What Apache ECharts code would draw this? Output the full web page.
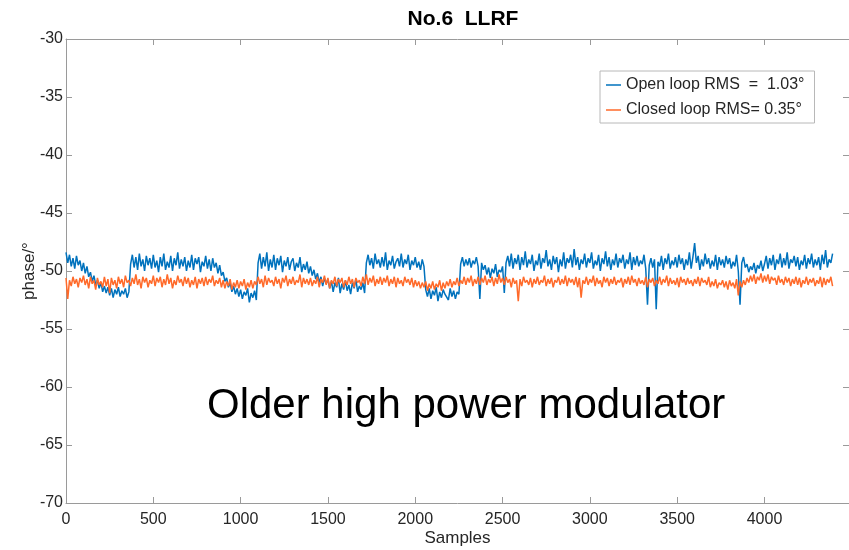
<!DOCTYPE html>
<html>
<head>
<meta charset="utf-8">
<script src="https://cdn.jsdelivr.net/npm/echarts@6/dist/echarts.min.js"></script>
<style>
html,body{margin:0;padding:0;background:#fff;}
#chart{width:849px;height:550px;}
</style>
</head>
<body>
<div id="chart"></div>
<script>
// ---- data (one value every 10 samples) ----
const sampleStep = 10;
const seriesNames = ['Open loop RMS  =  1.03\u00b0', 'Closed loop RMS= 0.35\u00b0'];
const yTicks = [-70, -65, -60, -55, -50, -45, -40, -35, -30];
const xTicks = [0, 500, 1000, 1500, 2000, 2500, 3000, 3500, 4000];
const titleText = 'No.6  LLRF';
const noteText = 'Older high power modulator';

const openLoop = [
-48.4,-49.3,-48.6,-49.6,-48.9,-49.8,-48.7,-49.5,-49.1,-50.0,
-49.3,-50.2,-49.6,-50.5,-50.1,-50.9,-50.4,-51.2,-50.8,-51.5,
-51.0,-51.8,-51.3,-51.9,-51.4,-52.1,-51.5,-52.3,-51.6,-52.0,
-51.4,-52.2,-51.7,-52.0,-51.5,-52.3,-51.8,-49.4,-48.6,-49.7,
-48.8,-49.9,-48.5,-49.6,-49.0,-50.0,-48.7,-49.5,-48.9,-49.8,
-48.6,-49.7,-49.1,-50.1,-48.8,-49.6,-48.5,-49.9,-49.2,-49.7,
-48.7,-50.0,-48.9,-49.5,-48.4,-49.8,-49.0,-49.6,-48.8,-50.0,
-49.1,-49.7,-48.6,-49.9,-48.9,-49.4,-48.8,-50.1,-49.2,-49.6,
-48.7,-49.8,-49.0,-50.0,-48.9,-49.7,-49.3,-50.2,-49.5,-50.4,
-50.1,-50.9,-50.6,-51.4,-51.0,-51.8,-51.3,-52.0,-51.5,-52.2,
-51.6,-52.4,-51.8,-52.1,-51.5,-52.7,-51.9,-52.3,-51.7,-52.5,
-49.3,-48.5,-49.8,-48.8,-49.6,-48.4,-50.0,-49.0,-49.7,-48.6,
-49.9,-48.9,-49.5,-48.7,-50.1,-49.1,-49.6,-48.8,-49.9,-49.2,
-48.9,-50.0,-49.3,-49.7,-48.8,-50.1,-49.4,-49.9,-49.2,-50.2,
-49.6,-50.4,-49.9,-50.7,-50.2,-51.0,-50.5,-51.3,-50.6,-51.1,
-50.7,-51.5,-50.9,-51.8,-51.0,-51.4,-50.6,-51.9,-51.1,-51.6,
-50.8,-51.7,-51.2,-52.0,-51.0,-51.5,-50.7,-51.8,-51.3,-51.6,
-51.0,-51.9,-49.3,-48.6,-49.5,-48.9,-49.8,-48.5,-49.4,-49.0,
-49.7,-48.8,-49.6,-48.4,-49.9,-49.1,-49.5,-48.7,-49.8,-49.2,
-48.9,-49.6,-48.5,-49.7,-49.0,-49.4,-48.6,-49.9,-49.1,-49.5,
-48.8,-49.7,-49.2,-49.9,-49.0,-49.6,-51.6,-52.2,-51.5,-52.4,
-51.7,-52.1,-51.4,-52.6,-51.8,-52.3,-51.6,-52.0,-51.9,-52.5,
-51.5,-52.2,-51.7,-52.4,-51.8,-52.0,-49.4,-48.8,-49.6,-49.0,
-49.5,-48.9,-49.7,-49.1,-49.4,-48.8,-49.6,-52.4,-49.3,-49.9,
-49.5,-50.3,-49.7,-50.6,-49.8,-50.2,-49.4,-50.5,-49.9,-50.1,
-49.6,-51.9,-49.3,-48.7,-49.6,-48.5,-49.8,-48.9,-49.4,-48.6,
-49.9,-48.8,-49.5,-48.3,-49.7,-49.0,-49.4,-48.6,-50.0,-49.1,
-49.5,-48.5,-49.8,-48.9,-49.3,-48.2,-49.6,-49.0,-49.9,-48.7,
-49.4,-48.8,-50.1,-49.0,-49.6,-48.4,-49.8,-48.9,-49.3,-48.6,
-49.7,-48.1,-49.5,-48.8,-49.9,-49.0,-49.4,-48.5,-49.7,-48.9,
-49.3,-48.4,-49.8,-49.1,-49.5,-48.6,-50.0,-48.9,-49.4,-48.3,
-49.6,-48.8,-49.9,-49.0,-49.5,-48.5,-49.7,-48.9,-49.3,-48.6,
-49.8,-49.0,-49.4,-48.4,-49.9,-48.8,-49.5,-48.7,-49.6,-49.1,
-49.4,-48.6,-49.8,-52.9,-49.5,-48.9,-49.7,-49.0,-53.3,-49.2,
-49.6,-48.7,-49.9,-48.9,-49.4,-48.5,-49.8,-49.1,-49.5,-48.8,
-49.7,-48.6,-49.4,-48.9,-49.9,-49.0,-49.5,-48.4,-49.8,-48.8,
-47.6,-49.3,-48.7,-49.9,-49.0,-49.6,-48.5,-49.4,-48.9,-49.8,
-49.1,-49.6,-48.6,-49.9,-48.8,-49.5,-49.0,-49.7,-48.7,-49.4,
-48.9,-49.8,-49.2,-49.6,-48.6,-50.0,-52.9,-49.3,-48.8,-49.7,
-49.4,-50.1,-49.6,-49.9,-49.3,-50.2,-49.5,-49.8,-49.1,-50.0,
-49.4,-48.7,-49.8,-48.9,-49.5,-48.6,-49.9,-49.0,-49.4,-48.5,
-49.7,-48.9,-49.5,-48.4,-49.8,-49.0,-49.3,-48.7,-49.6,-48.8,
-49.9,-49.1,-49.5,-48.6,-49.8,-48.9,-49.4,-48.5,-49.7,-49.0,
-49.5,-48.8,-49.9,-48.6,-49.4,-48.2,-49.7,-49.0,-49.3,-48.5
];

const closedLoop = [
-50.6,-52.4,-50.8,-51.3,-50.5,-51.1,-50.7,-51.4,-50.6,-51.0,
-50.4,-51.2,-50.7,-51.5,-50.5,-51.1,-50.8,-51.6,-50.6,-51.2,
-50.9,-51.4,-50.5,-51.3,-50.7,-51.9,-50.6,-51.2,-50.8,-51.5,
-50.5,-51.1,-50.7,-51.4,-50.4,-51.0,-50.8,-51.3,-50.6,-51.1,
-50.3,-51.2,-50.7,-51.5,-50.5,-51.0,-50.6,-51.4,-50.8,-51.1,
-50.4,-51.3,-50.6,-51.0,-50.5,-51.4,-50.7,-51.2,-50.3,-51.1,
-50.6,-51.5,-50.8,-51.2,-50.4,-51.0,-50.7,-51.3,-50.5,-51.1,
-50.6,-51.4,-50.8,-51.2,-50.5,-51.5,-50.7,-51.1,-50.6,-51.3,
-50.5,-51.2,-50.7,-51.0,-50.4,-51.3,-50.8,-51.1,-50.6,-51.4,
-50.8,-51.5,-50.9,-51.3,-50.7,-51.6,-51.0,-51.4,-50.8,-51.5,
-50.9,-51.3,-50.7,-51.6,-51.0,-51.4,-50.8,-51.5,-50.9,-51.2,
-50.5,-51.1,-50.7,-51.4,-50.4,-51.2,-50.6,-51.0,-50.8,-51.3,
-50.5,-51.1,-50.7,-51.5,-50.6,-51.0,-50.4,-51.3,-50.7,-51.1,
-50.5,-51.2,-50.8,-51.0,-50.3,-51.4,-50.6,-51.1,-50.7,-51.2,
-50.6,-51.3,-50.8,-51.1,-50.5,-51.4,-50.7,-51.0,-50.4,-51.2,
-50.6,-51.5,-50.8,-51.1,-50.5,-51.3,-50.7,-51.0,-50.6,-51.4,
-50.8,-51.2,-50.5,-51.1,-50.7,-51.4,-50.6,-51.0,-50.8,-51.3,
-50.5,-51.1,-50.3,-51.2,-50.6,-51.0,-50.4,-51.3,-50.7,-51.1,
-50.5,-51.2,-50.6,-51.0,-50.4,-51.3,-50.7,-51.1,-50.5,-51.4,
-50.6,-51.1,-50.8,-51.3,-50.5,-51.0,-50.7,-51.2,-50.6,-51.4,
-50.8,-51.3,-50.9,-51.5,-51.0,-51.4,-50.9,-51.7,-51.1,-51.5,
-50.9,-51.6,-51.1,-51.4,-50.8,-51.7,-51.0,-51.5,-50.9,-51.3,
-50.7,-51.4,-50.9,-51.2,-50.6,-51.3,-50.8,-51.1,-50.5,-51.2,
-50.6,-51.0,-50.4,-51.3,-50.7,-51.1,-50.5,-51.2,-50.6,-51.0,
-50.4,-51.2,-50.7,-51.0,-50.5,-51.3,-50.6,-51.1,-50.3,-51.0,
-50.6,-51.2,-50.5,-51.0,-50.7,-51.4,-50.6,-51.1,-50.8,-52.6,
-50.7,-51.3,-50.5,-51.0,-50.8,-51.2,-50.6,-51.4,-50.7,-51.1,
-50.5,-51.2,-50.8,-51.0,-50.4,-51.3,-50.7,-51.1,-50.6,-51.4,
-50.8,-51.0,-50.5,-51.2,-50.7,-51.1,-50.4,-51.3,-50.6,-51.0,
-50.7,-51.2,-50.5,-51.4,-50.6,-52.3,-50.8,-51.1,-50.5,-51.2,
-50.7,-51.0,-50.4,-51.3,-50.6,-51.1,-50.8,-51.4,-50.5,-51.0,
-50.6,-51.3,-50.7,-51.1,-50.5,-51.2,-50.8,-51.0,-50.6,-51.4,
-50.7,-51.1,-50.5,-51.2,-50.4,-51.0,-50.7,-51.3,-50.6,-51.1,
-50.8,-51.2,-50.5,-51.4,-50.7,-51.0,-50.6,-51.3,-50.8,-51.1,
-50.5,-51.2,-50.7,-51.0,-50.4,-51.3,-50.6,-51.1,-50.8,-51.2,
-50.6,-51.4,-50.5,-51.0,-50.7,-51.2,-50.6,-51.1,-50.8,-51.3,
-50.7,-51.1,-50.5,-51.3,-50.6,-51.0,-50.8,-51.2,-50.5,-51.4,
-50.9,-51.3,-50.7,-51.5,-51.0,-51.2,-50.8,-51.4,-50.9,-51.6,
-50.8,-51.3,-51.0,-51.5,-50.7,-52.1,-50.9,-51.4,-50.8,-51.2,
-50.6,-51.0,-50.4,-50.9,-50.3,-51.1,-50.5,-50.8,-50.2,-51.0,
-50.4,-50.9,-50.3,-51.1,-50.5,-50.8,-50.6,-51.2,-50.4,-51.0,
-50.7,-51.2,-50.5,-51.0,-50.6,-51.3,-50.7,-51.1,-50.5,-51.2,
-50.6,-51.4,-50.8,-51.1,-50.5,-51.2,-50.7,-51.0,-50.6,-51.3,
-50.8,-51.1,-50.5,-51.4,-50.6,-51.2,-50.7,-51.0,-50.5,-51.3
];

// ---- chart ----
const FONT = '"Liberation Sans", Arial, Helvetica, sans-serif';
const AXIS_GRAY = '#9a9a9a';
const LABEL = '#262626';
const BLUE = '#0072BD';
const ORANGE = '#FF6A2A';

const toPairs = arr => arr.map((v, i) => [i * sampleStep, v]);
const plain = v => String(v);

const chart = echarts.init(document.getElementById('chart'), null, {renderer: 'canvas'});

const xCommon = {
  type: 'value', min: xTicks[0], max: 4484, interval: xTicks[1] - xTicks[0],
  axisLine: {show: true, onZero: false, lineStyle: {color: AXIS_GRAY, width: 1}},
  axisTick: {show: true, inside: true, length: 6, lineStyle: {color: AXIS_GRAY}},
  splitLine: {show: false}
};
const yCommon = {
  type: 'value', min: yTicks[0], max: yTicks[yTicks.length - 1], interval: yTicks[1] - yTicks[0],
  axisLine: {show: true, onZero: false, lineStyle: {color: AXIS_GRAY, width: 1}},
  axisTick: {show: true, inside: true, length: 6, lineStyle: {color: AXIS_GRAY}},
  splitLine: {show: false}
};

chart.setOption({
  animation: false,
  backgroundColor: '#ffffff',
  textStyle: {fontFamily: FONT},
  title: {
    text: titleText, left: 458, top: 4, textAlign: 'center',
    textStyle: {fontFamily: FONT, fontSize: 21, fontWeight: 'bold', color: '#000'}
  },
  grid: {left: 66, right: 0, top: 39, bottom: 47, containLabel: false, outerBoundsMode: 'none'},
  legend: {
    orient: 'vertical', left: 600, top: 71,
    padding: [5, 10, 4, 6], itemGap: 7,
    itemWidth: 15, itemHeight: 1.5, icon: 'rect',
    borderColor: '#b8b8b8', borderWidth: 1, backgroundColor: '#fff',
    textStyle: {fontFamily: FONT, fontSize: 16, color: LABEL, lineHeight: 18},
    data: seriesNames
  },
  xAxis: [
    Object.assign({}, xCommon, {
      position: 'bottom', name: 'Samples', nameLocation: 'middle', nameGap: 27,
      nameMoveOverlap: false,
      nameTextStyle: {fontFamily: FONT, fontSize: 17, color: LABEL},
      axisLabel: {show: true, margin: 9, fontFamily: FONT, fontSize: 16, color: LABEL,
                  showMaxLabel: false, formatter: plain}
    }),
    Object.assign({}, xCommon, {position: 'top', axisLabel: {show: false}})
  ],
  yAxis: [
    Object.assign({}, yCommon, {
      position: 'left', name: 'phase/\u00b0', nameLocation: 'middle', nameGap: 28,
      nameMoveOverlap: false,
      nameTextStyle: {fontFamily: FONT, fontSize: 17, color: LABEL},
      axisLabel: {show: true, margin: 3, fontFamily: FONT, fontSize: 16, color: LABEL, formatter: plain}
    }),
    Object.assign({}, yCommon, {position: 'right', axisLabel: {show: false}})
  ],
  graphic: [{
    type: 'text', left: 207, top: 385,
    style: {text: noteText, font: '42px ' + FONT, fill: '#000'}
  }],
  series: [
    {
      name: seriesNames[0], type: 'line', xAxisIndex: 0, yAxisIndex: 0,
      data: toPairs(openLoop), showSymbol: false, symbol: 'none', sampling: null,
      lineStyle: {color: BLUE, width: 1.5}, itemStyle: {color: BLUE}
    },
    {
      name: seriesNames[1], type: 'line', xAxisIndex: 0, yAxisIndex: 0,
      data: toPairs(closedLoop), showSymbol: false, symbol: 'none', sampling: null,
      lineStyle: {color: ORANGE, width: 1.5}, itemStyle: {color: ORANGE}
    }
  ]
});
</script>
</body>
</html>
